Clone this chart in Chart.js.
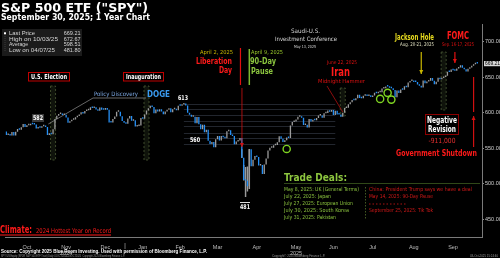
<!DOCTYPE html>
<html>
<head>
<meta charset="utf-8">
<script src="https://cdn.jsdelivr.net/npm/chart.js@4.4.1/dist/chart.umd.min.js"></script>
<style>
  html, body { margin: 0; padding: 0; background: #000; }
</style>
</head>
<body>
<canvas id="spy" width="500" height="258"></canvas>
<script>
// SPY daily closes (Oct 1 2024 - Oct 3 2025)
const prevClose = 573.76;
const oct24 = [568.62,568.86,567.82,572.98,567.80,573.17,577.14,576.13,579.58,584.32,579.78,582.30,582.35,584.59,583.63,583.32,577.99,579.24,579.04,580.83,581.77,580.01,568.64];
const nov24 = [571.04,569.81,576.70,591.04,595.61,598.19,598.76,596.90,597.19,593.35,585.75,588.15,590.30,590.50,593.67,595.51,597.53,600.65,598.83,602.55];
const dec24 = [603.63,603.91,607.66,606.66,607.81,604.68,602.80,607.46,604.33,604.21,606.79,604.29,586.28,586.10,591.15,594.69,601.30,601.34,595.01,588.22,586.08];
const jan25 = [584.64,591.95,595.36,588.63,589.49,580.49,581.39,582.19,592.78,591.64,597.58,603.05,606.44,609.75,607.97,599.37,604.52,601.81,605.04,601.82];
const feb25 = [597.77,601.78,604.22,606.32,600.77,604.85,605.31,603.36,609.73,609.70,611.49,612.93,610.38,599.94,597.21,594.24,594.54,585.05,594.18];
const mar25 = [583.77,576.86,583.06,572.71,575.92,560.58,555.92,558.87,551.42,562.81,567.15,561.02,567.13,565.49,563.98,574.08,575.46,568.59,567.08,555.66,559.39];
const apr25 = [560.97,564.52,536.70,505.28,504.38,496.48,548.62,524.58,533.94,539.12,537.61,525.66,526.41,513.88,527.25,535.42,546.69,550.64,550.85,554.32,554.54];
const may25 = [558.47,566.76,563.51,558.80,561.15,565.06,564.34,581.99,586.84,587.59,590.46,594.20,594.85,592.85,582.86,583.09,579.11,591.15,587.73,590.05,589.39];
const jun25 = [592.71,596.09,596.18,593.05,599.14,599.68,603.08,601.36,603.75,597.00,602.68,597.53,597.44,594.28,600.15,606.78,607.12,611.87,614.91,617.85];
const jul25 = [617.65,620.45,625.34,620.68,620.34,624.06,625.82,623.62,624.81,622.14,624.22,628.04,627.58,628.77,628.86,634.21,634.42,637.10,636.94,635.26,634.46,632.08];
const aug25 = [621.72,631.17,627.97,632.78,632.25,637.18,635.92,642.69,644.89,644.95,643.44,643.30,639.81,638.11,635.55,645.31,641.54,644.18,645.16,648.92,645.05];
const sep25 = [640.27,643.74,649.12,647.24,648.83,650.33,652.21,657.63,657.41,660.91,660.00,659.18,662.26,663.70,666.84,663.21,661.10,658.05,661.82,663.68,666.18];
const oct25 = [668.45,669.22,669.21];

// intraday range around the April low
const wickDates = ['2025-04-03','2025-04-04','2025-04-07','2025-04-08','2025-04-09'];
const wickLows  = [536.7, 505.1, 481.8, 489.7, 493.1];
const wickHighs = [548.0, 525.9, 523.2, 524.0, 548.6];

// green circles (trade deal dates)
const dealDates  = ['2025-05-08','2025-07-22','2025-07-28','2025-07-30'];
const dealLevels = [549, 619.5, 628, 618.5];

const statLabels = ['Last Price','High on 10/03/25','Average','Low on 04/07/25'];
const statValues = ['669.21','672.67','598.51','481.80'];
const monthNames = ['Oct','Nov','Dec','Jan','Feb','Mar','Apr','May','Jun','Jul','Aug','Sep'];
const yearLabels = { 'Nov': '2024', 'May': '2025' };
const yTicks = [450, 500, 550, 600, 650, 700];
const lastPrice = 669.21;
const fibLevels = [613, 605, 597, 589, 581, 572, 564, 556];

const holidays = ['2024-11-28','2024-12-25','2025-01-01','2025-01-09','2025-01-20','2025-02-17','2025-04-18','2025-05-26','2025-06-19','2025-07-04','2025-09-01'];

const NAR = '"Liberation Sans Narrow", "Arial Narrow", "DejaVu Sans Condensed", sans-serif';
const DJ = '"DejaVu Sans", sans-serif';
const LIB = '"Liberation Sans", Arial, sans-serif';
const UP = '#9c9c9c';
const DOWN = '#2690f5';

// trading days
const dates = [];
for (let d = new Date(Date.UTC(2024, 9, 1)); d <= new Date(Date.UTC(2025, 9, 3)); d.setUTCDate(d.getUTCDate() + 1)) {
    const wd = d.getUTCDay();
    const s = d.toISOString().slice(0, 10);
    if (wd === 0 || wd === 6 || holidays.includes(s)) continue;
    dates.push(s);
}
const closes = [].concat(oct24, nov24, dec24, jan25, feb25, mar25, apr25, may25, jun25, jul25, aug25, sep25, oct25);
const labels = dates.concat(['', '']);
const idx = s => dates.indexOf(s);

const bodies = closes.map((c, i) => [i ? closes[i - 1] : prevClose, c]);
const bodyColors = closes.map((c, i) => c >= (i ? closes[i - 1] : prevClose) ? UP : DOWN);
const wicks = labels.map(() => null);
wickDates.forEach((d, k) => { wicks[idx(d)] = [wickLows[k], wickHighs[k]]; });
const deals = labels.map(() => null);
dealDates.forEach((d, k) => { deals[idx(d)] = dealLevels[k]; });

// middle trading day of each month -> tick
const monthTicks = {};
monthNames.forEach((m, k) => {
    const mm = (k + 9) % 12 + 1;
    const yy = k < 3 ? 2024 : 2025;
    const key = yy + '-' + String(mm).padStart(2, '0');
    const inMonth = dates.map((d, i) => d.startsWith(key) ? i : -1).filter(i => i >= 0);
    const mid = Math.floor((inMonth[0] + inMonth[inMonth.length - 1]) / 2);
    monthTicks[mid] = yearLabels[m] ? [m, yearLabels[m]] : m;
});

// text helper, squeezed to a target width
function put(ctx, s, x, y, o) {
    ctx.save();
    ctx.font = (o.bold ? 'bold ' : '') + o.size + 'px ' + (o.fam || NAR);
    ctx.fillStyle = o.color || '#fff';
    ctx.textBaseline = 'middle';
    ctx.textAlign = 'left';
    const m = ctx.measureText(s).width;
    const k = o.w ? o.w / m : 1;
    const w = m * k;
    const left = o.align === 'center' ? x - w / 2 : o.align === 'right' ? x - w : x;
    ctx.translate(left, y);
    ctx.scale(k, 1);
    ctx.fillText(s, 0, 0);
    ctx.restore();
}

function line(ctx, pts, color, lw, dash) {
    ctx.save();
    ctx.strokeStyle = color;
    ctx.lineWidth = lw || 1;
    if (dash) ctx.setLineDash(dash);
    ctx.beginPath();
    ctx.moveTo(pts[0][0], pts[0][1]);
    for (let i = 1; i < pts.length; i++) ctx.lineTo(pts[i][0], pts[i][1]);
    ctx.stroke();
    ctx.restore();
}

function arrow(ctx, x0, y0, x1, y1, color, lw) {
    line(ctx, [[x0, y0], [x1, y1]], color, lw);
    const a = Math.atan2(y1 - y0, x1 - x0);
    ctx.save();
    ctx.fillStyle = color;
    ctx.beginPath();
    ctx.moveTo(x1, y1);
    ctx.lineTo(x1 - 4 * Math.cos(a) + 2 * Math.sin(a), y1 - 4 * Math.sin(a) - 2 * Math.cos(a));
    ctx.lineTo(x1 - 4 * Math.cos(a) - 2 * Math.sin(a), y1 - 4 * Math.sin(a) + 2 * Math.cos(a));
    ctx.closePath();
    ctx.fill();
    ctx.restore();
}

function band(ctx, x, y0, y1) {
    ctx.save();
    ctx.fillStyle = '#0f130b';
    ctx.fillRect(x - 2.5, y0, 5, y1 - y0);
    ctx.strokeStyle = '#4b5a36';
    ctx.lineWidth = 0.8;
    ctx.setLineDash([2, 2]);
    ctx.strokeRect(x - 2.5, y0, 5, y1 - y0);
    ctx.restore();
}

function box(ctx, x, y, w, h, stroke) {
    ctx.save();
    ctx.fillStyle = '#000';
    ctx.fillRect(x, y, w, h);
    ctx.strokeStyle = stroke;
    ctx.lineWidth = 1;
    ctx.strokeRect(x + 0.5, y + 0.5, w - 1, h - 1);
    ctx.restore();
}

const notes = {
    id: 'notes',
    beforeDraw(chart) {
        const ctx = chart.ctx;
        ctx.save();
        ctx.fillStyle = '#000';
        ctx.fillRect(0, 0, chart.width, chart.height);
        ctx.restore();
    },
    beforeDatasetsDraw(chart) {
        const ctx = chart.ctx;
        const xs = chart.scales.x, ys = chart.scales.y;
        const X = d => xs.getPixelForValue(idx(d));

        // retracement lines after the February high
        fibLevels.forEach(v => {
            const y = Math.round(ys.getPixelForValue(v)) + 0.5;
            line(ctx, [[X('2025-02-19'), y], [X('2025-06-16'), y]], '#2b303a', 0.8);
        });

        band(ctx, X('2024-11-05'), 86, 160);
        band(ctx, X('2025-01-21'), 86, 160);
        band(ctx, X('2025-06-23'), 88, 116);
        band(ctx, X('2025-09-09'), 52, 110);

        // policy discovery leader
        line(ctx, [[X('2024-11-01') - 1, 124], [93, 98], [146, 98]], '#808080', 0.8);
    },
    afterDraw(chart) {
        const ctx = chart.ctx;
        const xs = chart.scales.x, ys = chart.scales.y;
        const X = d => xs.getPixelForValue(idx(d));

        // title
        put(ctx, 'S&P 500 ETF ("SPY")', 1, 9, { size: 12.5, bold: true, fam: DJ, w: 147 });
        put(ctx, 'September 30, 2025; 1 Year Chart', 1, 18, { size: 8, bold: true, fam: DJ, w: 149 });

        // stats box
        ctx.fillStyle = '#1b1b1b';
        ctx.fillRect(2, 29, 80, 27);
        ctx.fillStyle = '#fff';
        ctx.fillRect(4, 32.3, 2, 2);
        line(ctx, [[5, 36], [5, 52]], '#555', 0.6, [1, 1]);
        const rowY = [33.3, 39, 44.5, 50.2];
        const labW = [26, 49, 19, 46];
        statLabels.forEach((s, i) => {
            put(ctx, s, 9, rowY[i], { size: 5.5, fam: LIB, color: '#d6d6d6', w: labW[i] });
            put(ctx, statValues[i], 80.5, rowY[i], { size: 5.5, fam: LIB, color: '#d6d6d6', align: 'right' });
        });

        // event boxes
        box(ctx, 28, 72, 42, 9.5, '#c00000');
        put(ctx, 'U.S. Election', 49, 76.8, { size: 7, bold: true, align: 'center', w: 36 });
        box(ctx, 123, 72, 41, 9.5, '#c00000');
        put(ctx, 'Inauguration', 143.5, 76.8, { size: 7, bold: true, align: 'center', w: 35 });

        put(ctx, 'Policy Discovery', 94, 94, { size: 6, color: '#7aa5df', w: 44 });
        put(ctx, 'DOGE', 147, 94.5, { size: 9, bold: true, color: '#3a9af0', w: 23 });

        // price labels
        ctx.fillStyle = '#3a3a3a';
        ctx.fillRect(32, 114, 12, 8);
        put(ctx, '582', 38, 118.2, { size: 6.5, bold: true, align: 'center', w: 10 });
        put(ctx, '613', 183, 98, { size: 6.5, bold: true, align: 'center', w: 10 });
        put(ctx, '560', 195, 140, { size: 6.5, bold: true, align: 'center', w: 10 });
        line(ctx, [[240, 202.5], [250, 202.5]], '#ddd', 1);
        put(ctx, '481', 245, 207.5, { size: 6.5, bold: true, align: 'center', w: 10 });

        // Liberation Day
        const xA2 = X('2025-04-02');
        put(ctx, 'April 2, 2025', 233, 52.3, { size: 5.5, color: '#c8b600', align: 'right', w: 33 });
        put(ctx, 'Liberation', 232, 61.5, { size: 9, bold: true, color: '#ff1a1a', align: 'right', w: 36 });
        put(ctx, 'Day', 232, 71, { size: 9, bold: true, color: '#ff1a1a', align: 'right', w: 13 });
        line(ctx, [[xA2 + 0.5, 48], [xA2 + 0.5, 85]], '#e01010', 1.2);
        arrow(ctx, xA2 + 2, 88, xA2 + 2, 147, '#d01010', 0.8);

        // 90-day pause
        const xA9 = X('2025-04-09');
        put(ctx, 'April 9, 2025', 251, 52.3, { size: 5.5, color: '#9ccc2c', w: 32 });
        put(ctx, '90-Day', 250, 62, { size: 9, bold: true, color: '#8cc63f', w: 26 });
        put(ctx, 'Pause', 251, 72, { size: 9, bold: true, color: '#8cc63f', w: 22 });
        line(ctx, [[xA9, 49], [xA9, 85]], '#7cb82f', 1.5);

        // Saudi conference
        put(ctx, 'Saudi-U.S.', 305.5, 31.7, { size: 6, color: '#d8d8d8', align: 'center', w: 29 });
        put(ctx, 'Investment Conference', 306, 39.3, { size: 6, color: '#d8d8d8', align: 'center', w: 62 });
        put(ctx, 'May 13, 2025', 305, 46.7, { size: 4, color: '#d8d8d8', align: 'center', w: 22 });

        // Iran
        put(ctx, 'June 22, 2025', 327, 63, { size: 5, color: '#e01010', w: 30 });
        put(ctx, 'Iran', 331, 73, { size: 12, bold: true, color: '#ff1a1a', w: 19 });
        put(ctx, 'Midnight Hammer', 318, 82, { size: 5.5, color: '#e01010', w: 47 });
        line(ctx, [[327, 86], [X('2025-06-23'), 112]], '#b01010', 0.8);

        // Jackson Hole
        const xJH = X('2025-08-21');
        put(ctx, 'Jackson Hole', 395, 37.8, { size: 9, bold: true, color: '#e6da1e', w: 39 });
        put(ctx, 'Aug. 20-21, 2025', 400, 45, { size: 5, color: '#e0e0c0', w: 34 });
        arrow(ctx, xJH, 52, xJH, 74, '#c8b600', 1.2);

        // FOMC
        const xF = X('2025-09-17');
        put(ctx, 'FOMC', 447, 36.7, { size: 10, bold: true, color: '#ff1a1a', w: 22 });
        put(ctx, 'Sep. 16-17, 2025', 442, 45, { size: 5, color: '#e01010', w: 32 });
        arrow(ctx, xF, 52, xF, 63, '#e01010', 1.2);

        // negative revision
        box(ctx, 425, 114, 34, 21, '#8b0000');
        put(ctx, 'Negative', 442, 120.5, { size: 8, bold: true, align: 'center', w: 30 });
        put(ctx, 'Revision', 442, 129.8, { size: 8, bold: true, align: 'center', w: 28 });
        put(ctx, '-911,000', 442, 141, { size: 7, color: '#e83030', align: 'center', w: 27 });

        // shutdown
        const xS = X('2025-10-01');
        line(ctx, [[xS, 77], [xS, 112]], '#d01010', 1.2);
        arrow(ctx, xS, 147, xS, 116, '#d01010', 1.2);
        put(ctx, 'Government Shutdown', 396, 154.3, { size: 8, bold: true, color: '#ff1a1a', w: 81 });

        // trade deals
        put(ctx, 'Trade Deals:', 284, 178, { size: 11, bold: true, color: '#8dc63f', w: 63 });
        line(ctx, [[284, 183.5], [480, 183.5]], '#3c5a1e', 0.8);
        const greens = ['May 8, 2025: UK (General Terms)', 'July 22, 2025: Japan', 'July 27, 2025: European Union',
                        'July 30, 2025: South Korea', 'July 31, 2025: Pakistan'];
        const greenW = [75, 47, 69, 65, 52];
        greens.forEach((s, i) => put(ctx, s, 284, 190 + i * 7, { size: 5.5, color: '#8dc63f', w: greenW[i] }));
        line(ctx, [[365.5, 187], [365.5, 220]], '#55702c', 0.8, [1.5, 1.5]);
        put(ctx, 'China: President Trump says we have a deal', 369, 190, { size: 5.5, color: '#d01818', w: 103 });
        put(ctx, 'May 14, 2025: 90-Day Pause', 369, 197, { size: 5.5, color: '#d01818', w: 64 });
        line(ctx, [[369, 204], [406, 204]], '#d01818', 0.8, [1.5, 2]);
        put(ctx, 'September 25, 2025: Tik Tok', 369, 211, { size: 5.5, color: '#d01818', w: 64 });

        // climate
        put(ctx, 'Climate:', 0, 230.3, { size: 10, bold: true, color: '#ff1a1a', w: 32 });
        put(ctx, '2024 Hottest Year on Record', 36, 231, { size: 6.5, color: '#ff1a1a', w: 75 });
        line(ctx, [[0, 235], [111, 235]], '#ff1a1a', 1.2);

        // year separator tick
        const xY = (xs.getPixelForValue(idx('2024-12-31')) + xs.getPixelForValue(idx('2025-01-02'))) / 2;
        line(ctx, [[xY, 243], [xY, 249]], '#888', 0.8);

        // last price flag
        const yL = ys.getPixelForValue(lastPrice);
        ctx.fillStyle = '#d8d8d8';
        ctx.fillRect(484, yL - 2.6, 16, 5.2);
        put(ctx, lastPrice.toFixed(2), 485, yL, { size: 5.5, fam: LIB, color: '#000', w: 15 });

        // source lines
        put(ctx, 'Source: Copyright 2025 Blue Room Investing. Used with permission of Bloomberg Finance, L.P.', 1, 251.7,
            { size: 5.5, bold: true, fam: LIB, w: 206 });
        put(ctx, 'SPY US Equity (SPDR S&P 500 ETF Trust) Daily 01OCT2024-03OCT2025  Copyright 2025 Bloomberg Finance L.P.', 1, 256.3,
            { size: 3.2, fam: LIB, color: '#999', w: 124 });
        put(ctx, 'Copyright\u00a9 2025 Bloomberg Finance L.P.', 272, 256.3, { size: 3.2, fam: LIB, color: '#999', w: 53 });
        put(ctx, '03-Oct-2025 15:24:40', 470, 256.3, { size: 3.2, fam: LIB, color: '#999', w: 28 });
    }
};

new Chart(document.getElementById('spy'), {
    type: 'bar',
    data: {
        labels: labels,
        datasets: [
            {
                label: 'circles',
                type: 'line',
                data: deals,
                showLine: false,
                pointRadius: 3.6,
                pointBorderWidth: 1.4,
                pointBorderColor: '#7ed321',
                pointBackgroundColor: 'rgba(0,0,0,0)',
                order: 1
            },
            {
                label: 'body',
                data: bodies.concat([null, null]),
                backgroundColor: bodyColors,
                grouped: false,
                barPercentage: 0.7,
                categoryPercentage: 1,
                minBarLength: 1.5,
                order: 2
            },
            {
                label: 'wick',
                data: wicks,
                backgroundColor: '#9a9a9a',
                grouped: false,
                barThickness: 0.8,
                order: 3
            }
        ]
    },
    options: {
        responsive: false,
        devicePixelRatio: 1,
        animation: false,
        events: [],
        layout: { padding: { top: 24, left: 0, right: 0, bottom: 0 } },
        plugins: { legend: { display: false }, tooltip: { enabled: false } },
        scales: {
            x: {
                offset: true,
                grid: { display: false },
                border: { display: true, color: '#7a7a7a' },
                ticks: {
                    autoSkip: false,
                    maxRotation: 0,
                    color: '#bdbdbd',
                    padding: 0,
                    font: { size: 5.5, family: LIB, lineHeight: 1.05 },
                    callback: v => monthTicks[v]
                },
                afterBuildTicks: s => { s.ticks = Object.keys(monthTicks).map(v => ({ value: +v })); },
                afterFit: s => { s.height = 21; }
            },
            y: {
                position: 'right',
                min: 425,
                max: 725,
                grid: { drawOnChartArea: false, tickLength: 2, color: '#8a8a8a' },
                border: { display: true, color: '#7a7a7a' },
                ticks: {
                    color: '#cfcfcf',
                    padding: 1,
                    font: { size: 5.5, family: LIB },
                    callback: v => v.toFixed(2)
                },
                afterBuildTicks: s => { s.ticks = yTicks.map(v => ({ value: v })); },
                afterFit: s => { s.width = 18; }
            }
        }
    },
    plugins: [notes]
});
</script>
</body>
</html>
